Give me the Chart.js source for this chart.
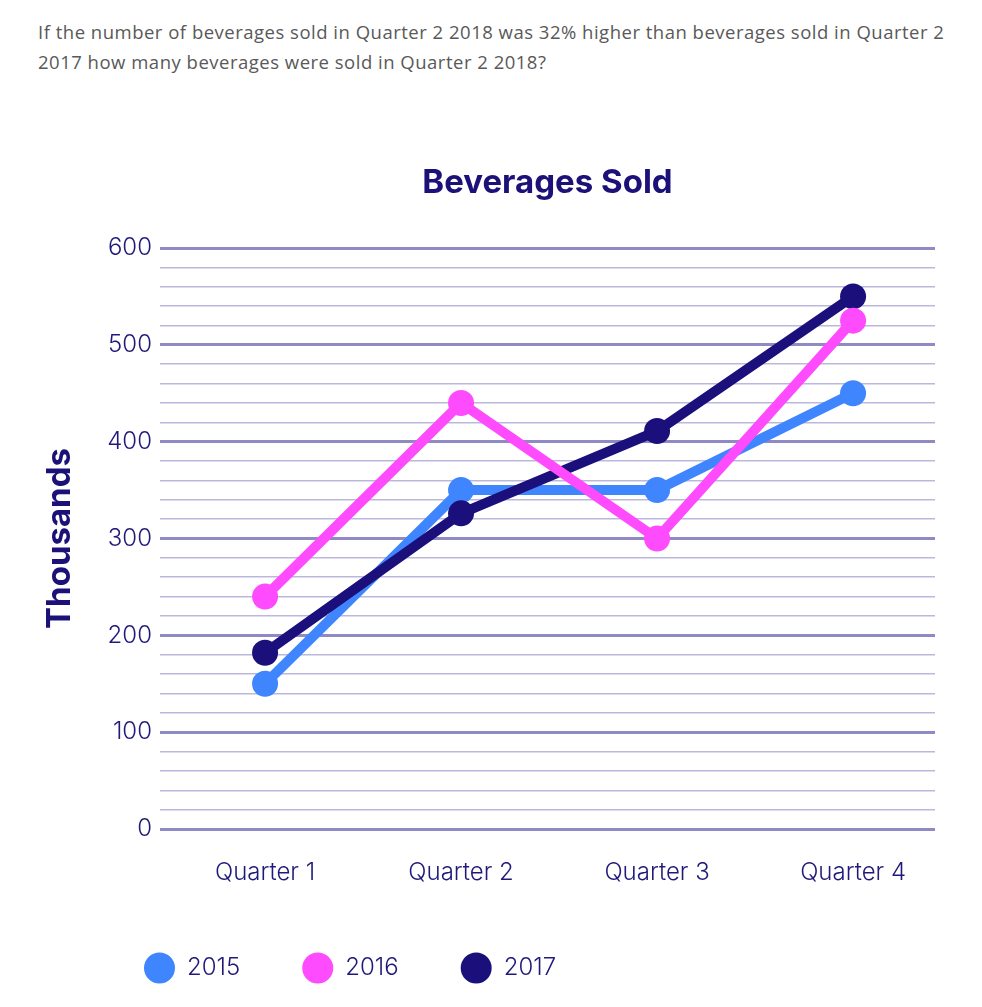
<!DOCTYPE html>
<html>
<head>
<meta charset="utf-8">
<script src="https://cdn.jsdelivr.net/npm/chart.js@4.4.0/dist/chart.umd.min.js"></script>
<style>
  html, body { margin: 0; padding: 0; background: #ffffff; overflow: hidden; }
  body { width: 982px; height: 1007px; position: relative; }
  #question {
    position: absolute; left: 38px; top: 17px; width: 940px;
    font-family: "Open Sans", "Noto Sans", sans-serif; font-size: 18.5px;
    letter-spacing: 0.5px;
    line-height: 30px; color: #595959; white-space: nowrap;
  }
  #chart { position: absolute; left: 0; top: 100px; }
</style>
</head>
<body>
<div id="question">If the number of beverages sold in Quarter 2 2018 was 32% higher than beverages sold in Quarter 2<br>2017 how many beverages were sold in Quarter 2 2018?</div>
<canvas id="chart" width="982" height="890"></canvas>
<script>
const categories = ['Quarter 1', 'Quarter 2', 'Quarter 3', 'Quarter 4'];
const seriesNames = ['2015', '2016', '2017'];
const sales2015 = [150, 350, 350, 450];
const sales2016 = [240, 440, 300, 525];
const sales2017 = [182, 326, 411, 550];
const seriesColors = ['#3e85fe', '#fd4bfd', '#1a0f7b'];
const seriesOrder = [2, 0, 1];
const yTickValues = [0, 100, 200, 300, 400, 500, 600];

const navy = '#1f1a7a';
const titleNavy = '#1b1178';
const allSeries = [sales2015, sales2016, sales2017];

const datasets = allSeries.map((vals, i) => ({
  label: seriesNames[i],
  data: vals.map((v, j) => ({ x: j, y: v })),
  borderColor: seriesColors[i],
  backgroundColor: seriesColors[i],
  pointBackgroundColor: seriesColors[i],
  pointBorderColor: seriesColors[i],
  pointBorderWidth: 0,
  pointRadius: 13,
  pointHoverRadius: 13,
  borderWidth: 10,
  tension: 0,
  order: seriesOrder[i]
}));

const blockShift = {
  id: 'blockShift',
  afterLayout(chart) {
    if (chart.legend) { chart.legend.left += 82; chart.legend.right += 82; }
    if (chart.titleBlock) { chart.titleBlock.left += 80; chart.titleBlock.right += 80; }
  }
};

new Chart(document.getElementById('chart'), {
  type: 'line',
  data: { datasets },
  plugins: [blockShift],
  options: {
    responsive: false,
    animation: false,
    devicePixelRatio: 1,
    layout: { padding: { left: 0, right: 47, top: 0, bottom: 0 } },
    plugins: {
      tooltip: { enabled: false },
      title: {
        display: true,
        text: 'Beverages Sold',
        color: titleNavy,
        font: { family: 'Inter, sans-serif', size: 33, weight: 'bold' },
        padding: { top: 63, bottom: 45.4 }
      },
      legend: {
        position: 'bottom',
        align: 'start',
        labels: {
          usePointStyle: true,
          pointStyle: 'circle',
          pointStyleWidth: 31,
          boxHeight: 22,
          padding: 62,
          color: navy,
          sort: (a, b) => a.datasetIndex - b.datasetIndex,
          font: { family: 'Inter, sans-serif', size: 24, weight: 300 }
        }
      }
    },
    scales: {
      x: {
        type: 'linear',
        min: -0.536,
        max: 3.418,
        afterBuildTicks(scale) { scale.ticks = categories.map((c, i) => ({ value: i })); },
        afterFit(scale) { scale.height = 65; },
        ticks: {
          callback: (v) => categories[v] !== undefined ? categories[v] : '',
          color: navy,
          padding: 29,
          maxRotation: 0,
          autoSkip: false,
          font: { family: 'Inter, sans-serif', size: 24, weight: 300 }
        },
        grid: { display: false, drawTicks: false },
        border: { display: false }
      },
      y: {
        min: 0,
        max: 600,
        afterFit(scale) { scale.width = 160; },
        ticks: {
          stepSize: 20,
          autoSkip: false,
          callback: (v) => yTickValues.includes(v) ? String(v) : '',
          color: navy,
          padding: 8,
          font: { family: 'Inter, sans-serif', size: 24, weight: 300 }
        },
        grid: {
          drawTicks: false,
          color: (ctx) => (ctx.tick && ctx.tick.value % 100 === 0) ? '#8f8ac4' : '#bbb7dd',
          lineWidth: (ctx) => (ctx.tick && ctx.tick.value % 100 === 0) ? 3 : 1.5
        },
        border: { display: false },
        title: {
          display: true,
          text: 'Thousands',
          color: titleNavy,
          font: { family: 'Inter, sans-serif', size: 33, weight: 'bold' },
          padding: { top: 40, bottom: 0 }
        }
      }
    }
  }
});
</script>
</body>
</html>
